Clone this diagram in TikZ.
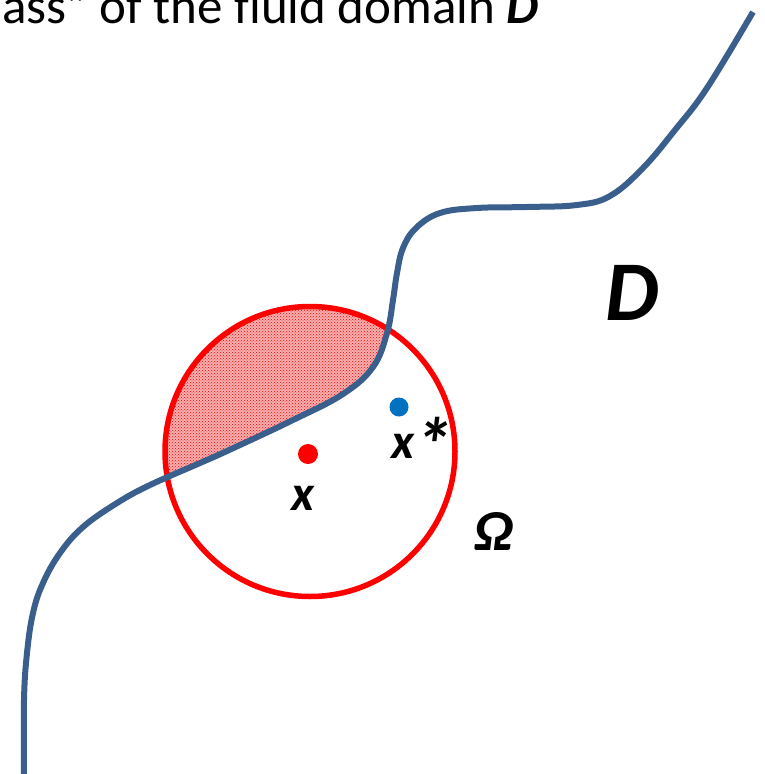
\documentclass[tikz,border=0pt]{standalone}
\usepackage{fontspec}
\setmainfont{Carlito}
\usetikzlibrary{patterns}
\definecolor{curveblue}{HTML}{3B5F8C}
\definecolor{dotblue}{HTML}{0070C0}
\definecolor{hatchpink}{HTML}{F7B0B0}
\begin{document}
\begin{tikzpicture}[x=1pt,y=-1pt,
  dotnode/.style={circle,inner sep=0pt,minimum size=20pt},
  lbl/.style={inner sep=0pt,font=\bfseries\itshape}]
\useasboundingbox (0,0) rectangle (764,774);
\clip (0,0) rectangle (764,774);
% hatched region
\begin{scope}
  \clip (310,451.5) circle (143);
  \fill[hatchpink] plot[smooth,tension=0.65] coordinates {(24,774) (24,700) (27,653) (33,613) (43,583) (60,553) (83,527) (117,503) (150,485) (200,463) (227,451) (293,420) (343,394) (373,367) (387,333) (393,300) (397,273) (403,248) (416,228) (440,213) (477,208) (527,207) (577,205) (610,196) (643,168) (675,130) (707,88) (753,12)} -- (764,0) -- (0,0) -- (0,774) -- cycle;
  \fill[pattern=crosshatch dots,pattern color=red] plot[smooth,tension=0.65] coordinates {(24,774) (24,700) (27,653) (33,613) (43,583) (60,553) (83,527) (117,503) (150,485) (200,463) (227,451) (293,420) (343,394) (373,367) (387,333) (393,300) (397,273) (403,248) (416,228) (440,213) (477,208) (527,207) (577,205) (610,196) (643,168) (675,130) (707,88) (753,12)} -- (764,0) -- (0,0) -- (0,774) -- cycle;
\end{scope}
% circle Omega
\node[draw=red,line width=5.5pt,circle,inner sep=0pt,minimum size=290pt] (omega) at (310,451.5) {};
% boundary of D
\draw[curveblue,line width=6pt] plot[smooth,tension=0.65] coordinates {(24,774) (24,700) (27,653) (33,613) (43,583) (60,553) (83,527) (117,503) (150,485) (200,463) (227,451) (293,420) (343,394) (373,367) (387,333) (393,300) (397,273) (403,248) (416,228) (440,213) (477,208) (527,207) (577,205) (610,196) (643,168) (675,130) (707,88) (753,12)};
% points
\node[dotnode,fill=red] (x) at (308,454) {};
\node[dotnode,fill=dotblue,minimum size=19pt] (xs) at (399,407) {};
% labels
\node[lbl,font=\fontsize{50}{60}\selectfont\bfseries\itshape,anchor=base] (xl) at (303,510) {x};
\node[lbl,font=\fontsize{50}{60}\selectfont\bfseries\itshape,anchor=base west] (xsl) at (391,458) {x\raisebox{-13pt}{\fontsize{76}{80}\selectfont *}};
\node[lbl,font=\fontsize{58}{68}\selectfont\bfseries\itshape,anchor=base] (om) at (494,550) {Ω};
\node[lbl,font=\fontsize{85}{100}\selectfont\bfseries\itshape,anchor=base] (dl) at (632,320) {D};
% top caption (cut by the frame, as in the reference)
\node[inner sep=0pt,anchor=base west,font=\fontsize{51}{60}\selectfont] (cap) at (2,23) {ass” of the fluid domain \textbf{\textit{D}}};
\end{tikzpicture}
\end{document}
